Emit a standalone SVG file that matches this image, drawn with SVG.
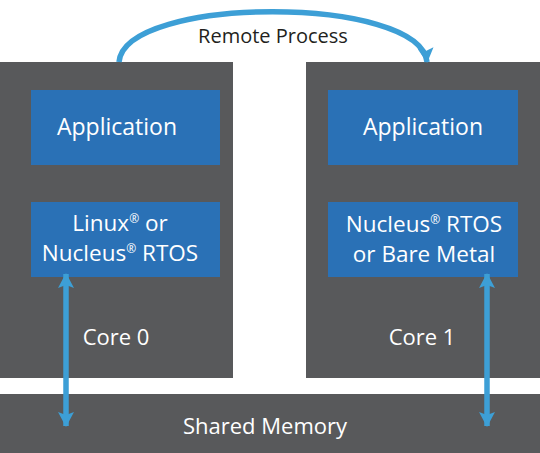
<svg xmlns="http://www.w3.org/2000/svg" width="540" height="453" viewBox="0 0 540 453">
  <style>
    .core { fill: #58595b; }
    .blue { fill: #2a71b6; }
    .wt { fill: #ffffff; font-family: "Open Sans", "Liberation Sans", sans-serif; font-size: 22px; text-anchor: middle; }
    .big { font-size: 23px; }
    .os { font-size: 22.5px; }
    .reg { font-size: 12px; }
    .lbl { fill: #231f20; font-family: "Open Sans", "Liberation Sans", sans-serif; font-size: 20px; text-anchor: middle; }
    .conn { fill: none; stroke: #3d9fd6; stroke-width: 5.5; }
  </style>
  <defs>
    <marker id="head" viewBox="0 0 15 16" refX="14" refY="8" markerWidth="15" markerHeight="16" markerUnits="userSpaceOnUse" orient="auto-start-reverse">
      <path d="M0,0 L15,8 L0,16 L3,8 z" fill="#3d9fd6"/>
    </marker>
  </defs>
  <rect width="540" height="453" fill="#ffffff"/>

  <g id="core0">
    <rect class="core" x="0" y="62" width="233" height="316"/>
    <text class="wt" x="116" y="345">Core 0</text>
  </g>
  <g id="core1">
    <rect class="core" x="306" y="62" width="234" height="316"/>
    <text class="wt" x="422" y="345">Core 1</text>
  </g>
  <g id="shared-memory">
    <rect class="core" x="0" y="394" width="540" height="59"/>
    <text class="wt" x="265" y="434">Shared Memory</text>
  </g>
  <g id="app0">
    <rect class="blue" x="31" y="90" width="189" height="75"/>
    <text class="wt big" x="117" y="135">Application</text>
  </g>
  <g id="app1">
    <rect class="blue" x="328" y="90" width="190" height="75"/>
    <text class="wt big" x="423" y="135">Application</text>
  </g>
  <g id="os0">
    <rect class="blue" x="31" y="202" width="189" height="75"/>
    <text class="wt os" x="120" y="231">Linux<tspan class="reg" baseline-shift="super">®</tspan> or</text>
    <text class="wt os" x="120" y="261">Nucleus<tspan class="reg" baseline-shift="super">®</tspan> RTOS</text>
  </g>
  <g id="os1">
    <rect class="blue" x="328" y="202" width="190" height="75"/>
    <text class="wt os" x="424" y="232">Nucleus<tspan class="reg" baseline-shift="super">®</tspan> RTOS</text>
    <text class="wt os" x="424" y="262">or Bare Metal</text>
  </g>

  <g id="connectors">
    <path class="conn" d="M119,62 C125,-5 420,-5 427,62" marker-end="url(#head)"/>
    <line class="conn" x1="66" y1="274" x2="66" y2="426" marker-start="url(#head)" marker-end="url(#head)"/>
    <line class="conn" x1="487" y1="274" x2="487" y2="426" marker-start="url(#head)" marker-end="url(#head)"/>
    <text class="lbl" x="273" y="43">Remote Process</text>
  </g>
</svg>
